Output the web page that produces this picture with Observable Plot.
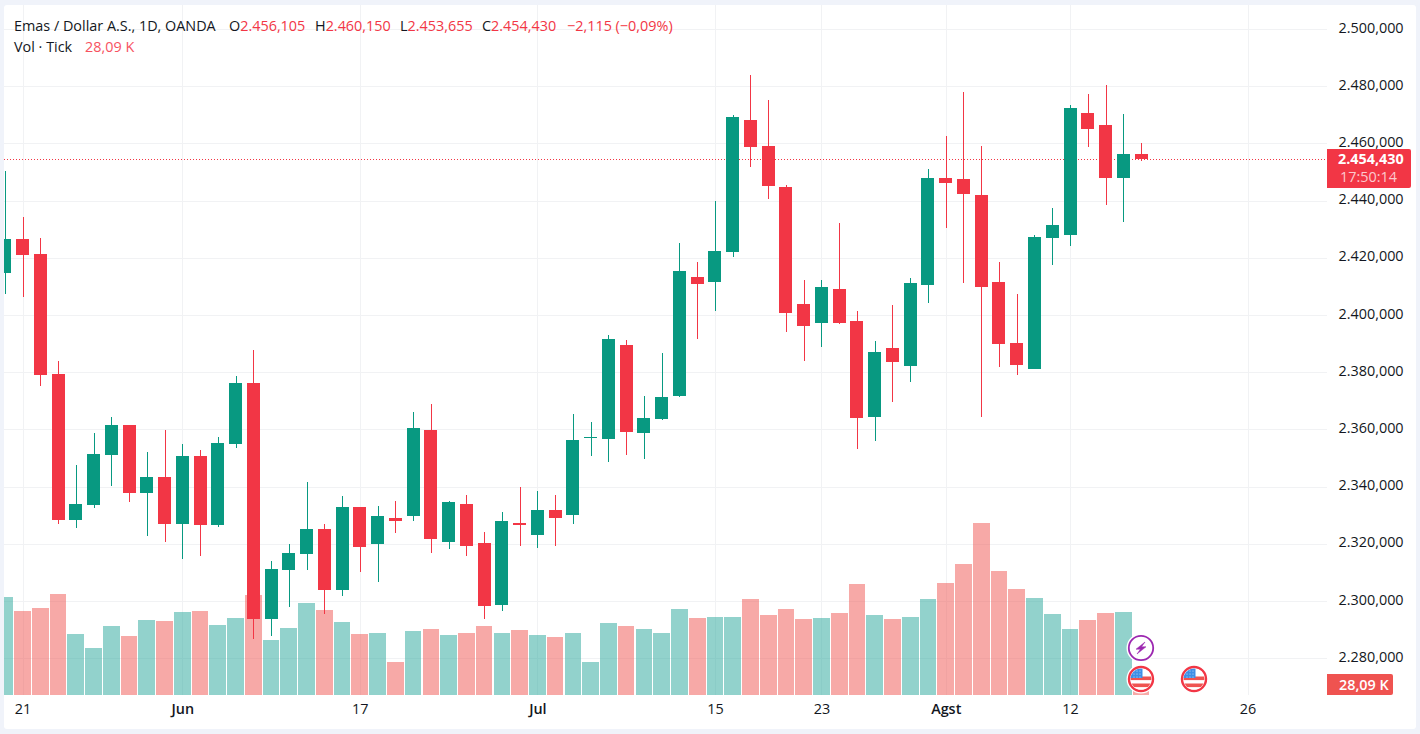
<!DOCTYPE html>
<html lang="id">
<head>
<meta charset="utf-8">
<title>Emas / Dollar A.S., 1D, OANDA</title>
<script src="https://cdn.jsdelivr.net/npm/d3@7"></script>
<script src="https://cdn.jsdelivr.net/npm/@observablehq/plot@0.6"></script>
<style>
  html,body{margin:0;padding:0;background:#f0f3fa;overflow:hidden;}
  #stage{position:relative;width:1420px;height:734px;font-family:"Open Sans",Lato,sans-serif;color:#131722;}
  #paper{position:absolute;left:4px;top:5px;width:1412px;height:724px;background:#fff;border-radius:3px;}
  #chart{position:absolute;left:0;top:0;}
  #chart svg{display:block;background:transparent;}
  .lg{position:absolute;font-size:14.4px;line-height:18px;white-space:nowrap;}
  .up{color:#F23645;}
  .tag{position:absolute;left:1327px;color:#fff;font-size:14.4px;text-align:left;}
  .icon{position:absolute;width:30px;height:30px;}
</style>
</head>
<body>
<div id="stage"><div id="paper"></div><div id="chart"></div></div>
<script>
const opens = [2414.5,2426.6,2421.4,2379.4,2328.4,2333.6,2351.1,2361.6,2337.8,2343.4,2327.0,2350.7,2326.6,2354.9,2376.3,2293.7,2310.9,2316.5,2325.2,2303.9,2332.9,2320.0,2329.1,2329.8,2359.9,2320.7,2334.0,2320.3,2298.6,2327.3,2323.1,2331.9,2330.1,2357.0,2356.7,2389.5,2358.8,2363.7,2371.7,2413.3,2411.6,2422.1,2468.2,2459.1,2444.8,2403.9,2397.3,2409.2,2398.0,2364.4,2388.5,2382.2,2410.5,2447.9,2447.6,2442.0,2411.6,2390.3,2381.2,2427.0,2428.0,2470.7,2466.5,2447.9,2456.105];
const highs = [2450.3,2434.3,2427.0,2384.0,2347.6,2358.8,2364.4,2361.6,2352.1,2359.8,2354.9,2352.8,2357.4,2378.8,2387.8,2314.0,2320.0,2341.6,2327.0,2336.7,2332.9,2333.3,2335.0,2365.9,2368.9,2335.0,2337.1,2324.2,2331.2,2339.9,2338.5,2337.1,2365.2,2362.7,2393.0,2391.2,2371.7,2386.7,2425.0,2418.6,2439.9,2470.0,2483.9,2475.2,2445.5,2412.3,2412.3,2432.2,2401.5,2390.9,2403.5,2413.0,2451.1,2462.6,2478.0,2459.1,2418.6,2407.4,2428.0,2437.5,2473.5,2477.3,2480.5,2470.3,2460.150];
const lows = [2407.4,2406.3,2375.2,2327.0,2325.6,2332.6,2340.2,2334.6,2322.8,2320.7,2314.7,2315.8,2325.9,2353.5,2286.7,2287.8,2297.9,2310.9,2295.5,2301.8,2310.2,2306.7,2323.8,2328.1,2316.8,2318.0,2315.8,2293.7,2296.5,2319.3,2318.6,2319.3,2327.0,2350.7,2348.7,2351.1,2349.7,2363.3,2371.4,2391.6,2401.4,2420.3,2451.8,2440.6,2394.1,2384.0,2388.7,2396.9,2353.2,2356.0,2369.6,2376.7,2404.2,2430.5,2411.2,2364.4,2381.8,2379.1,2381.2,2417.4,2424.2,2458.8,2438.5,2432.6,2453.655];
const closes = [2426.6,2421.0,2379.1,2328.4,2333.9,2351.4,2361.6,2337.8,2343.4,2327.0,2350.7,2326.6,2355.3,2376.3,2293.7,2311.2,2316.8,2325.2,2303.9,2332.9,2318.9,2329.8,2328.1,2360.3,2321.7,2334.7,2319.3,2298.3,2328.1,2326.6,2331.9,2329.1,2356.3,2357.4,2391.6,2359.1,2364.0,2371.4,2415.4,2410.9,2422.4,2469.3,2458.8,2445.2,2400.7,2396.2,2409.9,2397.3,2364.0,2387.1,2383.6,2411.2,2447.9,2446.2,2442.3,2409.9,2389.9,2382.6,2427.3,2431.5,2472.4,2465.1,2447.9,2456.1,2454.430];
const volumes = [229.3,196.6,203.6,236.3,142.7,110.0,161.5,138.1,175.5,173.2,194.2,196.6,163.8,180.2,234.0,128.7,156.8,215.3,198.9,170.8,142.7,145.1,77.2,149.8,154.4,140.4,145.1,161.5,145.1,152.1,140.4,135.7,145.1,77.2,168.5,161.5,154.4,145.1,201.2,180.2,182.5,182.5,224.6,187.2,201.2,177.8,180.2,191.9,259.7,187.2,177.8,182.5,224.6,262.1,306.5,402.5,290.2,248.0,227.0,189.5,154.4,175.5,191.9,194.2,28.09];
const yTicks = [2500,2480,2460,2440,2420,2400,2380,2360,2340,2320,2300,2280];
const yTickLabels = ["2.500,000","2.480,000","2.460,000","2.440,000","2.420,000","2.400,000","2.380,000","2.360,000","2.340,000","2.320,000","2.300,000","2.280,000"];
const dayTicks = [1,20,40,46,60,70];
const dayTickLabels = ["21","17","15","23","12","26"];
const monthTicks = [10,30,53];
const monthTickLabels = ["Jun","Jul","Agst"];
const lastPrice = 2454.430;
const lastVolume = 28.09;

const GREEN = "#089981", RED = "#F23645", VOL_GREEN = "#26a69a", VOL_RED = "#ef5350", GRID = "#f1f2f4";
const rows = opens.map((o,i)=>({i,o,h:highs[i],l:lows[i],c:closes[i],v:volumes[i],up:closes[i]>=o}));
const yMin = 2267.10, yMax = 2508.36;
const volToPrice = v => yMin + v*0.1494;
const fromList = (ticks,labels) => d => labels[ticks.indexOf(d)];
const up = rows.filter(d=>d.up), down = rows.filter(d=>!d.up);
const volBar = (data,fill) => Plot.rect(data,{x1:d=>d.i-0.47,x2:d=>d.i+0.47,y1:yMin,y2:d=>volToPrice(d.v),fill,fillOpacity:0.5,clip:true,shapeRendering:"crispEdges"});
const wick = (data,stroke) => Plot.ruleX(data,{x:"i",y1:"l",y2:"h",stroke,strokeWidth:1,clip:true,shapeRendering:"crispEdges"});
const body = (data,fill) => Plot.rect(data,{x1:d=>d.i-0.366,x2:d=>d.i+0.366,y1:"o",y2:"c",fill,clip:true,shapeRendering:"crispEdges"});

const chart = Plot.plot({
  width:1420, height:734,
  marginLeft:4, marginRight:93, marginTop:5, marginBottom:39,
  style:{background:"transparent",fontFamily:"'Open Sans',Lato,sans-serif",fontSize:"14.4px",color:"#131722"},
  x:{type:"linear",domain:[-0.042,74.475],axis:null},
  y:{type:"linear",domain:[yMin,yMax],axis:null},
  marks:[
    Plot.gridX(dayTicks.concat(monthTicks),{stroke:GRID,strokeOpacity:1,shapeRendering:"crispEdges"}),
    Plot.gridY(yTicks,{stroke:GRID,strokeOpacity:1,shapeRendering:"crispEdges"}),
    volBar(up,VOL_GREEN),
    volBar(down,VOL_RED),
    Plot.ruleY([lastPrice],{stroke:RED,strokeWidth:1,strokeDasharray:"1,2",shapeRendering:"crispEdges"}),
    wick(up,GREEN), wick(down,RED),
    body(up,GREEN), body(down,RED),
    Plot.axisY({anchor:"right",ticks:yTicks,tickSize:0,tickPadding:11,dy:-1.5,label:null,textAnchor:"start",tickFormat:fromList(yTicks,yTickLabels)}),
    Plot.axisX({anchor:"bottom",ticks:dayTicks,tickSize:0,tickPadding:8,label:null,tickFormat:fromList(dayTicks,dayTickLabels)}),
    Plot.axisX({anchor:"bottom",ticks:monthTicks,tickSize:0,tickPadding:8,label:null,fontWeight:600,tickFormat:fromList(monthTicks,monthTickLabels)})
  ]
});
document.getElementById("chart").appendChild(chart);

const stage = document.getElementById("stage");
const add = (cls,css,html) => { const el=document.createElement("div"); el.className=cls; el.style.cssText=css; el.innerHTML=html; stage.appendChild(el); return el; };

// status lines
[[14,"Emas / Dollar A.S., 1D, OANDA",""],[229,"O","2.456,105"],[315,"H","2.460,150"],[400,"L","2.453,655"],[482,"C","2.454,430"]]
  .forEach(([x,a,b])=>add("lg",`left:${x}px;top:17px;`,`${a}<span class="up">${b}</span>`));
add("lg","left:567px;top:17px;color:#F23645;","−2,115 (−0,09%)");
add("lg","left:14px;top:38px;","Vol · Tick");
add("lg","left:85px;top:38px;color:#F7525F;","28,09 K");

// price and volume tags, placed through the chart's own y scale
const yS = chart.scale("y"), xS = chart.scale("x");
const py = yS.apply(lastPrice);
add("tag",`top:${py-10.2}px;width:84px;height:39px;background:#F23645;border-radius:0 2px 2px 0;`,
  `<div style="position:absolute;left:11px;top:1px;font-weight:700;line-height:18px;">2.454,430</div><div style="position:absolute;left:13px;top:19px;line-height:18px;color:#fcc9cd;">17:50:14</div>`);
add("tag","top:674px;width:66px;height:21px;background:#ef5350;border-radius:0 2px 2px 0;",
  `<div style="position:absolute;left:12px;top:1px;line-height:19px;font-weight:600;">28,09 K</div>`);

// event badges
const flag = id => `<svg width="30" height="30" viewBox="0 0 30 30"><defs><clipPath id="${id}"><circle cx="15" cy="15" r="10.5"/></clipPath></defs>
<circle cx="15" cy="15" r="14.5" fill="#fff"/><circle cx="15" cy="15" r="12" fill="#fff" stroke="#F23645" stroke-width="2.4"/>
<g clip-path="url(#${id})"><rect x="4" y="4" width="22" height="22" fill="#fff"/><rect x="4" y="12.5" width="22" height="3.6" fill="#ef5350"/><rect x="4" y="19.5" width="22" height="3.6" fill="#ef5350"/><rect x="4" y="4" width="12.5" height="10" fill="#3d8fe6"/>
<g fill="#cfe3fb"><circle cx="8" cy="7" r=".6"/><circle cx="11" cy="7" r=".6"/><circle cx="14" cy="7" r=".6"/><circle cx="8" cy="10" r=".6"/><circle cx="11" cy="10" r=".6"/><circle cx="14" cy="10" r=".6"/><circle cx="8" cy="13" r=".6"/><circle cx="11" cy="13" r=".6"/><circle cx="14" cy="13" r=".6"/></g></g></svg>`;
const bolt = `<svg width="30" height="30" viewBox="0 0 30 30"><circle cx="15" cy="15" r="14.5" fill="#fff"/><circle cx="15" cy="15" r="12.2" fill="#fff" stroke="#9C27B0" stroke-width="1.8"/><path d="M19 9 L10 16.2 H14.4 L11 21 L20 13.8 H15.6 Z" fill="#9C27B0" stroke="#9C27B0" stroke-width=".5"/></svg>`;
add("icon",`left:${xS.apply(64)-15}px;top:632.5px;`,bolt);
add("icon",`left:${xS.apply(64)-15}px;top:664px;`,flag("f1"));
add("icon",`left:${xS.apply(67)-15}px;top:664px;`,flag("f2"));
</script>
</body>
</html>
